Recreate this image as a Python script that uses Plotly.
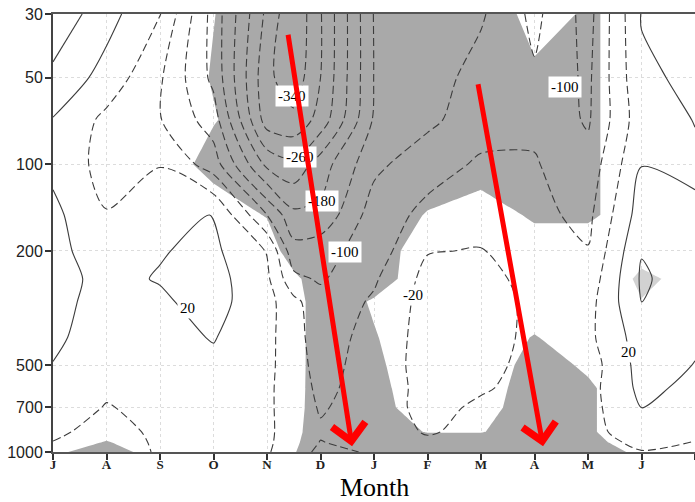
import numpy as np
import plotly.graph_objects as go

# ---------------- data ----------------
# grid columns: month index (0 = Jul ... 12 = next Jul); 4.5 is a mid-Nov/Dec column
months = [0, 1, 2, 3, 4, 4.5, 5, 6, 7, 8, 9, 10, 11, 12]
month_ticks = list(range(13))
month_labels = ['J', 'A', 'S', 'O', 'N', 'D', 'J', 'F', 'M', 'A', 'M', 'J', 'J']
plev = [30, 50, 70, 100, 150, 200, 250, 300, 400, 500, 600, 700, 850, 925, 1000]
p_ticks = [30, 50, 100, 200, 500, 700, 1000]

# anomaly values per month column, listed from 30 hPa down to 1000 hPa
anom_jul0 = [90, 50, 18, 10, 30, 30, 30, 30, 26, 19, 10, 0, -12, -21, -25]
anom_aug = [35, 5, -30, -35, -18, 2, 12, 8, 4, -5, -14, -22, -35, -40, -45]
anom_sep = [-18, -55, -58, -21, -5, 18, 22, 15, 8, 0, -5, -10, -12, -14, -15]
anom_oct = [-155, -150, -120, -80, 22, 28, 35, 33, 22, 12, 6, 3, 0, -2, -5]
anom_nov = [-310, -330, -320, -230, -100, -22, -12, -5, -8, -10, -12, -12, -12, -13, -15]
anom_novdec = [-375, -365, -330, -250, -170, -125, -90, -50, -45, -42, -42, -42, -40, -42, -50]
anom_dec = [-303, -300, -285, -200, -170, -115, -105, -85, -80, -75, -68, -63, -56, -61, -65]
anom_jan = [-138, -139, -135, -110, -80, -80, -65, -55, -45, -42, -45, -45, -48, -50, -58]
anom_feb = [-120, -118, -110, -75, -50, -22, -8, -5, -5, -5, -6, -5, -15, -30, -40]
anom_mar = [-105, -85, -75, -55, -40, -18, -5, 0, -2, -8, -15, -28, -35, -40, -45]
anom_apr = [-50, -65, -68, -57, -50, -45, -35, -30, -30, -32, -35, -38, -42, -45, -50]
anom_may = [-115, -108, -105, -85, -70, -58, -45, -35, -30, -40, -35, -35, -35, -38, -40]
anom_jun = [22, 14, 5, 19, 40, 58, 65, 61, 40, 35, 30, 21, 5, -10, -22]
anom_jul1 = [35, 27, 21, 15, 25, 28, 40, 35, 25, 19, 10, 2, -12, -21, -25]

# significance of negative anomalies (>0.5 = significant)
sig_jul0 = [0, 0, 0, 0, 0, 0, 0, 0, 0, 0, 0, 0, 0, 0, 0.3]
sig_aug = [0, 0, 0, 0, 0, 0, 0, 0, 0, 0, 0, 0, 0.2, 0.55, 1]
sig_sep = [0, 0, 0, 0, 0, 0, 0, 0, 0, 0, 0, 0, 0, 0, 0]
sig_oct = [0.48, 0.55, 0.45, 0.8, 0, 0, 0, 0, 0, 0, 0, 0, 0, 0, 0]
sig_nov = [1, 1, 1, 1, 0.55, 0, 0, 0, 0, 0, 0, 0, 0, 0, 0]
sig_novdec = [1, 1, 1, 1, 1, 1, 0.3, 0.1, 0.1, 0.1, 0.12, 0.15, 0.25, 0.35, 0.45]
sig_dec = [1, 1, 1, 1, 1, 1, 1, 1, 1, 1, 1, 1, 1, 1, 1]
sig_jan = [1, 1, 1, 1, 1, 1, 0.9, 0.42, 0.55, 0.65, 0.75, 0.85, 1, 1, 1]
sig_feb = [1, 1, 1, 1, 0.45, 0, 0, 0, 0, 0, 0, 0, 0.45, 1, 1]
sig_mar = [1.5, 1, 1, 1, 0, 0, 0, 0, 0, 0, 0, 0.15, 0.45, 1, 1]
sig_apr = [0, 0.75, 1, 1, 0.65, 0, 0, 0, 0.55, 0.8, 1, 1, 1, 1, 1]
sig_may = [0.65, 0.65, 0.65, 0.65, 0.65, 0, 0, 0, 0, 0.4, 0.6, 0.6, 0.6, 0.8, 1]
sig_jun = [0, 0, 0, 0, 0, 0, 0, 0, 0, 0, 0, 0, 0, 0, 0.3]
sig_jul1 = [0, 0, 0, 0, 0, 0, 0, 0, 0, 0, 0, 0, 0, 0, 0]

# significance of positive anomalies
psig_may = [0, 0, 0, 0, 0, 0, -1, 0, 0, 0, 0, 0, 0, 0, 0]
psig_jun = [0, 0, 0, 0, 0, 0, 0.8, 0.45, 0, 0, 0, 0, 0, 0, 0]

# contour labels (text, month position, pressure)
label_text = ['-340', '-260', '-180', '-100', '-100', '-20', '20', '20']
label_x = [4.47, 4.62, 5.03, 5.46, 9.57, 6.73, 2.52, 10.75]
label_p = [58, 94, 134, 202, 54, 284, 316, 449]

# red arrows: tail (month, hPa) -> tip (month, hPa)
arrow_tail_x = [4.39, 7.94]
arrow_tail_p = [35, 52]
arrow_tip_x = [5.59, 9.16]
arrow_tip_p = [955, 955]

# ---------------- build ----------------
anom = np.array([anom_jul0, anom_aug, anom_sep, anom_oct, anom_nov, anom_novdec, anom_dec,
                 anom_jan, anom_feb, anom_mar, anom_apr, anom_may, anom_jun, anom_jul1]).T
sig = np.array([sig_jul0, sig_aug, sig_sep, sig_oct, sig_nov, sig_novdec, sig_dec,
                sig_jan, sig_feb, sig_mar, sig_apr, sig_may, sig_jun, sig_jul1]).T
zero = [0] * len(plev)
psig = np.array([zero, zero, zero, zero, zero, zero, zero, zero, zero, zero, zero,
                 psig_may, psig_jun, zero]).T

fig = go.Figure()

# constraint contours shade the region that violates the constraint,
# so "keep < 0.5" shades the significant (> 0.5) area
fig.add_trace(go.Contour(
    x=months, y=plev, z=sig,
    contours=dict(type='constraint', operation='<', value=0.5),
    fillcolor='#a9a9a9', line=dict(width=0, smoothing=0),
    showscale=False, hoverinfo='skip', showlegend=False))

fig.add_trace(go.Contour(
    x=months, y=plev, z=psig,
    contours=dict(type='constraint', operation='<', value=0.5),
    fillcolor='#d2d2d2', line=dict(width=0, smoothing=0),
    showscale=False, hoverinfo='skip', showlegend=False))

fig.add_trace(go.Contour(
    x=months, y=plev, z=anom, autocontour=False,
    contours=dict(coloring='none', start=-380, end=-20, size=40),
    line=dict(color='#3c3c3c', width=1.1, dash='8px,4px', smoothing=0.8),
    showscale=False, hoverinfo='skip', showlegend=False))

fig.add_trace(go.Contour(
    x=months, y=plev, z=anom, autocontour=False,
    contours=dict(coloring='none', start=20, end=100, size=40),
    line=dict(color='#3c3c3c', width=1.1, smoothing=0.8),
    showscale=False, hoverinfo='skip', showlegend=False))

annotations = []
for t, lx, lp in zip(label_text, label_x, label_p):
    annotations.append(dict(
        x=lx, y=np.log10(lp), xref='x', yref='y', text=t, showarrow=False,
        bgcolor='white', borderpad=2,
        font=dict(family='Liberation Serif', size=15, color='black')))

for tx, tp, hx, hp in zip(arrow_tail_x, arrow_tail_p, arrow_tip_x, arrow_tip_p):
    annotations.append(dict(
        x=hx, y=np.log10(hp), xref='x', yref='y',
        ax=tx, ay=np.log10(tp), axref='x', ayref='y',
        text='', showarrow=True, arrowhead=4, arrowsize=1.3,
        arrowwidth=5, arrowcolor='#ff0000', standoff=0))

annotations.append(dict(
    x=0.5, y=-35.5 / 438, xref='paper', yref='paper', text='Month', showarrow=False,
    yanchor='middle', borderpad=0,
    font=dict(family='Liberation Serif', size=26, color='black')))

fig.update_layout(
    width=695, height=502,
    margin=dict(l=53, r=0, t=14, b=50),
    plot_bgcolor='white', paper_bgcolor='white',
    showlegend=False,
    annotations=annotations,
    xaxis=dict(
        range=[0, 12], tickvals=month_ticks, ticktext=month_labels,
        ticks='outside', ticklen=6, tickwidth=1.5, tickcolor='#333',
        ticklabelstandoff=-7,
        showline=True, linecolor='#555', linewidth=2, mirror=True,
        showgrid=True, gridcolor='#dcdcdc', griddash='dot', gridwidth=1,
        zeroline=False,
        tickfont=dict(family='Liberation Serif', size=13, color='#222', weight='bold')),
    yaxis=dict(
        type='log', range=[3, np.log10(30)], tickvals=p_ticks,
        ticktext=[str(p) for p in p_ticks],
        ticks='outside', ticklen=6, tickwidth=1.5, tickcolor='#333',
        ticklabelstandoff=-1,
        showline=True, linecolor='#444', linewidth=2,
        showgrid=True, gridcolor='#dcdcdc', griddash='dot', gridwidth=1,
        zeroline=False,
        tickfont=dict(family='Liberation Sans', size=16, color='#222')),
)

fig.write_html('out.html', config={'displayModeBar': False})
